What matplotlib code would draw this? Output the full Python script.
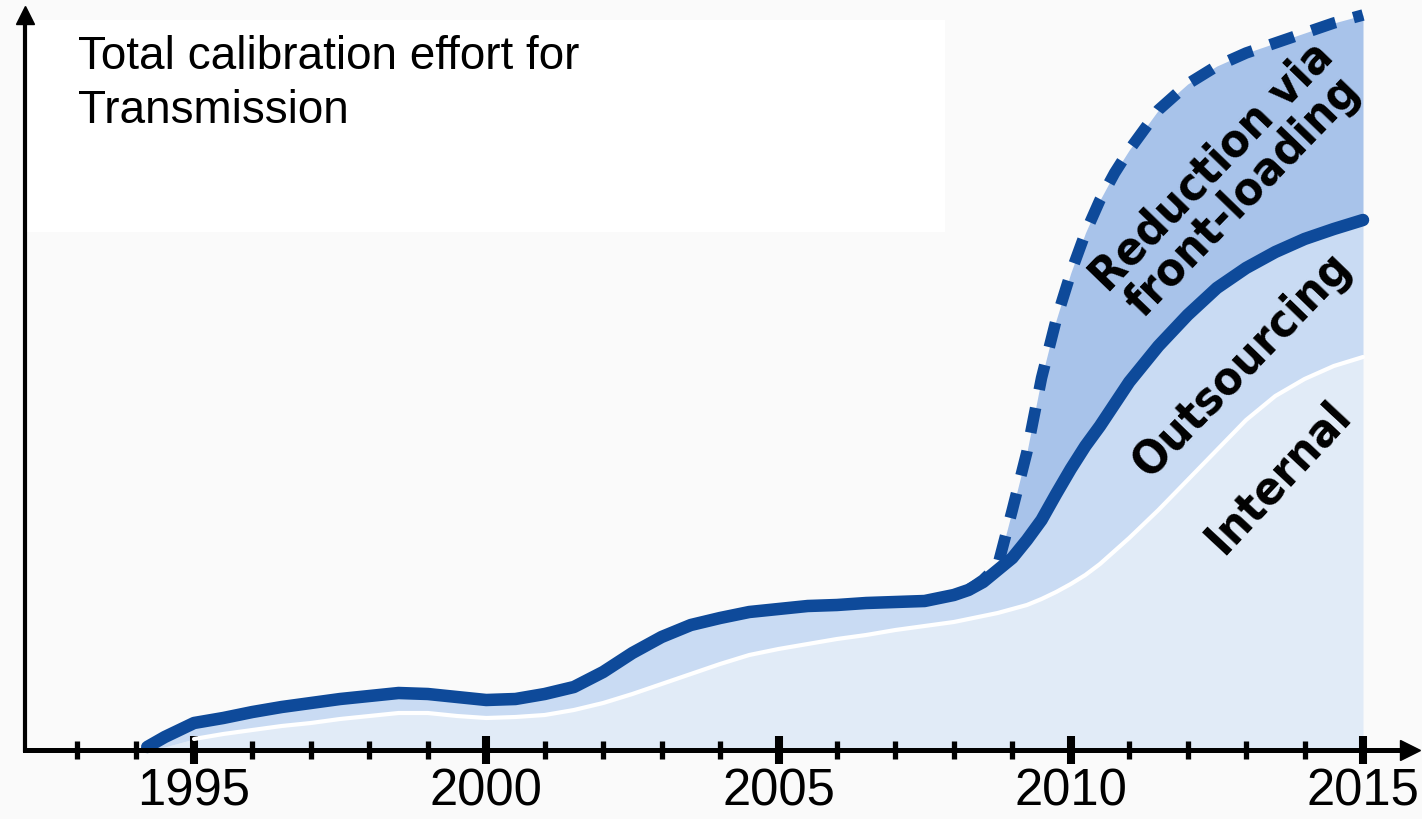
import matplotlib
matplotlib.use('Agg')
import matplotlib.pyplot as plt
from matplotlib.patches import Rectangle

# ---- data (effort, arbitrary units) ----
years = [1994.2, 1994.5, 1995, 1995.5, 1996, 1996.5, 1997, 1997.5, 1998, 1998.5,
         1999, 1999.5, 2000, 2000.5, 2001, 2001.5, 2002, 2002.5, 2003, 2003.5,
         2004, 2004.5, 2005, 2005.5, 2006, 2006.5, 2007, 2007.5, 2008, 2008.25,
         2008.5, 2008.75, 2009, 2009.25, 2009.5, 2009.75, 2010, 2010.25, 2010.5, 2010.75,
         2011, 2011.5, 2012, 2012.5, 2013, 2013.5, 2014, 2014.5, 2015]
internal = [0, 3, 11, 16, 20, 24, 27, 31, 34, 37,
            37, 34, 32, 33, 35, 40, 47, 56, 66, 76,
            86, 95, 101, 106, 111, 115, 120, 124, 128, 131,
            134, 137, 141, 145, 151, 158, 166, 175, 186, 199,
            212, 240, 270, 300, 330, 354, 371, 384, 393]
with_outsourcing = [3, 13, 27, 32, 38, 43, 47, 51, 54, 57,
                    56, 53, 50, 51, 56, 63, 78, 97, 113, 125,
                    132, 138, 141, 144, 145, 147, 148, 149, 155, 160,
                    168, 180, 192, 210, 230, 256, 281, 304, 324, 346,
                    368, 404, 435, 462, 482, 498, 511, 521, 530]
dashed_years = [2008.25, 2008.5, 2008.75, 2009, 2009.25, 2009.5, 2009.75, 2010,
                2010.25, 2010.5, 2010.75, 2011, 2011.5, 2012, 2012.5, 2013, 2013.5,
                2014, 2014.5, 2015]
without_frontloading = [160, 170, 184, 240, 298, 372, 430, 477,
                        517, 550, 577, 600, 640, 666, 684, 697, 707,
                        717, 727, 735]

major_years = [1995, 2000, 2005, 2010, 2015]
tick_labels = ['1995', '2000', '2005', '2010', '2015']
minor_years = [1993, 1994, 1996, 1997, 1998, 1999, 2001, 2002, 2003, 2004,
               2006, 2007, 2008, 2009, 2011, 2012, 2013, 2014]

title = "Total calibration effort for\nTransmission"
label_reduction = "Reduction via\nfront-loading"
label_outsourcing = "Outsourcing"
label_internal = "Internal"

# ---- colours ----
c_internal = '#E1EBF7'
c_outsourcing = '#C9DBF3'
c_reduction = '#A8C3EA'
c_line = '#0E4A9A'

fig = plt.figure(figsize=(14.22, 8.19), dpi=100, facecolor='#FAFAFA')
ax = fig.add_axes([0, 0, 1, 1])
ax.set_facecolor('none')

px_per_year = 58.45
x0 = 1995 - 194 / px_per_year
ax.set_xlim(x0, x0 + 1422 / px_per_year)
ax.set_ylim(-69, 750)

# white title box (decoration)
ax.add_patch(Rectangle((25 / 1422, 1 - 232 / 819), 920 / 1422, 212 / 819,
                       transform=fig.transFigure, facecolor='white',
                       edgecolor='none', zorder=0.5))

# fills
n0 = years.index(dashed_years[0])
ax.fill_between(years, 0, internal, color=c_internal, lw=0, zorder=1)
ax.fill_between(years, internal, with_outsourcing, color=c_outsourcing, lw=0, zorder=1)
ax.fill_between(dashed_years, with_outsourcing[n0:], without_frontloading,
                color=c_reduction, lw=0, zorder=1)

# lines
ax.plot(years[2:], internal[2:], color='white', lw=3, zorder=2,
        solid_capstyle='round', solid_joinstyle='round')
ax.plot(dashed_years, without_frontloading, color=c_line, lw=8.3, zorder=3,
        dashes=(2.2, 1.6), dash_capstyle='butt', dash_joinstyle='round')
ax.plot(years, with_outsourcing, color=c_line, lw=9, zorder=4,
        solid_capstyle='round', solid_joinstyle='round')

# axes styling
y_axis_x = x0 + 25 / px_per_year
for s in ['top', 'right']:
    ax.spines[s].set_visible(False)
ax.spines['bottom'].set_position(('data', 0))
ax.spines['left'].set_position(('data', y_axis_x))
ax.spines['bottom'].set_linewidth(3.6)
ax.spines['left'].set_linewidth(3.0)
ax.spines['bottom'].set_bounds(y_axis_x, x0 + 1405 / px_per_year)
ax.spines['left'].set_bounds(0, 730)
ax.spines['bottom'].set_zorder(6)
ax.spines['left'].set_zorder(6)

ax.set_yticks([])
ax.set_xticks(major_years, labels=tick_labels)
ax.set_xticks(minor_years, minor=True)
ax.tick_params(axis='x', which='major', direction='inout', length=20, width=5.8,
               pad=2.5, labelsize=36.5, color='black')
ax.tick_params(axis='x', which='minor', direction='inout', length=13, width=3.8,
               color='black')
for lab in ax.get_xticklabels():
    lab.set_family(['Liberation Sans', 'DejaVu Sans'])

# arrowheads
ax.plot([x0 + 1410 / px_per_year], [0], marker='>', markersize=14, color='black',
        clip_on=False, zorder=8)
ax.plot([y_axis_x], [735], marker='^', markersize=13, color='black',
        clip_on=False, zorder=8)

# title
ax.text(x0 + 78 / px_per_year, 750 - 35, title, ha='left', va='top', fontsize=33,
        family=['Liberation Sans', 'DejaVu Sans'], linespacing=1.29, zorder=5)

# area labels
lab_font = dict(family='DejaVu Sans', fontstretch='condensed', weight='bold',
                color='black', ha='center', va='center', rotation_mode='anchor', zorder=9)
ax.text(x0 + 1228 / px_per_year, 750 - 182, label_reduction, fontsize=34, rotation=46,
        linespacing=0.92, **lab_font)
ax.text(x0 + 1243 / px_per_year, 750 - 365, label_outsourcing, fontsize=34, rotation=46,
        **lab_font)
ax.text(x0 + 1278 / px_per_year, 750 - 478, label_internal, fontsize=34, rotation=47,
        **lab_font)

fig.savefig('out.png', dpi=100, facecolor=fig.get_facecolor())
